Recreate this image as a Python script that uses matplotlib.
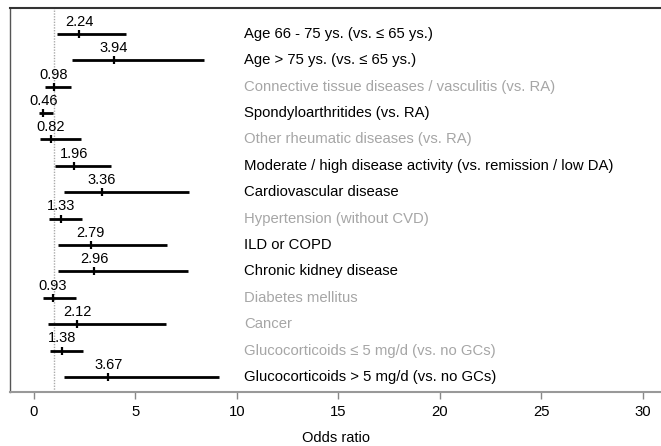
import numpy as np
import matplotlib
matplotlib.use("Agg")
import matplotlib.pyplot as plt

plt.rcParams['font.family'] = ['Liberation Sans', 'DejaVu Sans']

labels = [
    "Age 66 - 75 ys. (vs. \u2264 65 ys.)",
    "Age > 75 ys. (vs. \u2264 65 ys.)",
    "Connective tissue diseases / vasculitis (vs. RA)",
    "Spondyloarthritides (vs. RA)",
    "Other rheumatic diseases (vs. RA)",
    "Moderate / high disease activity (vs. remission / low DA)",
    "Cardiovascular disease",
    "Hypertension (without CVD)",
    "ILD or COPD",
    "Chronic kidney disease",
    "Diabetes mellitus",
    "Cancer",
    "Glucocorticoids \u2264 5 mg/d (vs. no GCs)",
    "Glucocorticoids > 5 mg/d (vs. no GCs)",
]
odds = [2.24, 3.94, 0.98, 0.46, 0.82, 1.96, 3.36, 1.33, 2.79, 2.96, 0.93, 2.12, 1.38, 3.67]
ci_low = [1.15, 1.89, 0.54, 0.23, 0.30, 1.02, 1.49, 0.74, 1.20, 1.17, 0.43, 0.70, 0.80, 1.48]
ci_high = [4.53, 8.37, 1.82, 0.95, 2.32, 3.81, 7.62, 2.36, 6.57, 7.57, 2.08, 6.53, 2.41, 9.11]
significant = [True, True, False, True, False, True, True, False, True, True, False, False, False, True]

fig = plt.figure(figsize=(6.61, 4.46), dpi=100)
ax = fig.add_axes([10/661, 54/446, 1 - 10/661, (392 - 7.5)/446])

rows = np.arange(1, len(labels) + 1)

ax.axvline(1, color='#aaaaaa', linestyle=(0, (1, 1)), linewidth=1, zorder=1)
ax.hlines(rows, ci_low, ci_high, color='black', linewidth=2, zorder=2)
ax.plot(odds, rows, linestyle='none', marker='|', markersize=6, mew=1.6, color='black', zorder=3)

for y, o, lab, sig in zip(rows, odds, labels, significant):
    ax.text(o, y - 0.46, f"{o:.2f}", ha='center', va='center', fontsize=10.5, color='black')
    ax.text(10.35, y, lab, ha='left', va='center', fontsize=10.75,
            color='black' if sig else '#a6a6a6')

ax.set_xlim(-1.18, 30.9)
ax.set_ylim(14.57, 0)
ax.set_yticks([])
ax.set_xticks([0, 5, 10, 15, 20, 25, 30])
ax.tick_params(axis='x', colors='#888888', labelcolor='black', labelsize=10.75, length=5, width=1, pad=4)
ax.set_xlabel("Odds ratio", fontsize=10.5, labelpad=9)

ax.spines['top'].set_color('#333333')
ax.spines['top'].set_linewidth(1.5)
ax.spines['left'].set_color('#555555')
ax.spines['left'].set_linewidth(1)
ax.spines['bottom'].set_color('#999999')
ax.spines['bottom'].set_linewidth(1.5)
ax.spines['right'].set_visible(False)

fig.savefig("out.png", dpi=100)
